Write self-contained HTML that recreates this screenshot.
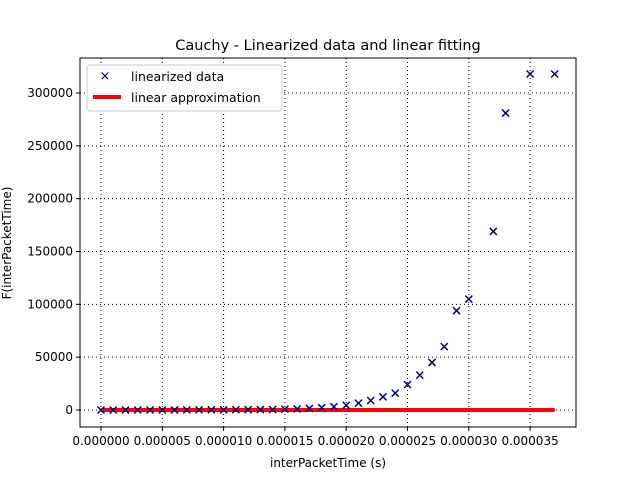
<!DOCTYPE html>
<html><head><meta charset="utf-8"><style>
body{margin:0;background:#fff;font-family:"Liberation Sans","DejaVu Sans",sans-serif}
svg text{font-family:"DejaVu Sans","Liberation Sans",sans-serif}
</style></head><body>
<svg id="c" width="640" height="480" xmlns="http://www.w3.org/2000/svg">
<rect width="640" height="480" fill="#fff"/>
<text x="328" y="50" font-size="14.5" text-anchor="middle">Cauchy - Linearized data and linear fitting</text>
<g id="grid"></g><g id="ticks"></g><g id="marks"></g>
<rect x="80" y="58" width="496" height="369" fill="none" stroke="#000" stroke-width="1"/>
<text x="328" y="467" font-size="12" text-anchor="middle">interPacketTime (s)</text>
<text transform="translate(11,243) rotate(-90)" font-size="12" text-anchor="middle">F(interPacketTime)</text>
<g>
<rect x="87" y="65" width="195" height="46" fill="#fff" stroke="#ccc" rx="3"/>
<text x="105" y="80" font-size="13" fill="#00008b" text-anchor="middle">×</text>
<text x="131" y="81" font-size="12.5">linearized data</text>
<line x1="93" y1="97" x2="121" y2="97" stroke="red" stroke-width="4"/>
<text x="131" y="102" font-size="12.5">linear approximation</text>
</g>
</svg>
<script>
const xData=[0,1,2,3,4,5,6,7,8,9,10,11,12,13,14,15,16,17,18,19,20,21,22,23,24,25,26,27,28,29,30,32,33,35,37];
const yData=[0,0,0,0,0,0,50,100,100,150,200,250,300,400,500,800,1000,1500,2200,3000,4500,6500,9000,12500,16000,24000,33000,45000,60000,94000,105000,169000,281000,318000,318000];
const fitX=[0,37];
const fitY=[0,0];
const xTicks=[0,5,10,15,20,25,30,35];
const yTicks=[0,50000,100000,150000,200000,250000,300000];
const NS="http://www.w3.org/2000/svg";
const sx=v=>101+v*61.3/5;
const sy=v=>410-v*317/300000;
function mk(tag,attrs,parent){const e=document.createElementNS(NS,tag);for(const k in attrs)e.setAttribute(k,attrs[k]);document.getElementById(parent).appendChild(e);return e;}
xTicks.forEach(t=>{
 const x=sx(t);
 const g=mk('line',{x1:x,y1:58,x2:x,y2:427,stroke:'#000','stroke-dasharray':'1,3','stroke-width':1},'grid');
 
 
 mk('line',{x1:x,y1:427,x2:x,y2:431,stroke:'#000'},'ticks');
 const tx=mk('text',{x:x,y:445,'font-size':12,'text-anchor':'middle'},'ticks');
 tx.textContent=(t/1e6).toFixed(6);
 
 
});
yTicks.forEach(t=>{
 const y=sy(t);
 const g=mk('line',{x1:80,y1:y,x2:576,y2:y,stroke:'#000','stroke-dasharray':'1,3','stroke-width':1},'grid');
 
 
 mk('line',{x1:76,y1:y,x2:80,y2:y,stroke:'#000'},'ticks');
 const tx=mk('text',{x:73,y:y+4,'font-size':12,'text-anchor':'end'},'ticks');
 tx.textContent=t;
 
 
});
const fl=mk('line',{x1:sx(fitX[0]),y1:sy(fitY[0]),x2:sx(fitX[1]),y2:sy(fitY[1]),stroke:'red','stroke-width':4},'marks');


xData.forEach((v,i)=>{
 const x=sx(v),y=sy(yData[i]),r=3.5;
 const p=mk('path',{d:`M${x-r},${y-r}L${x+r},${y+r}M${x-r},${y+r}L${x+r},${y-r}`,stroke:'#00008b','stroke-width':1.5,fill:'none'},'marks');
 
 
});
</script>
</body></html>
